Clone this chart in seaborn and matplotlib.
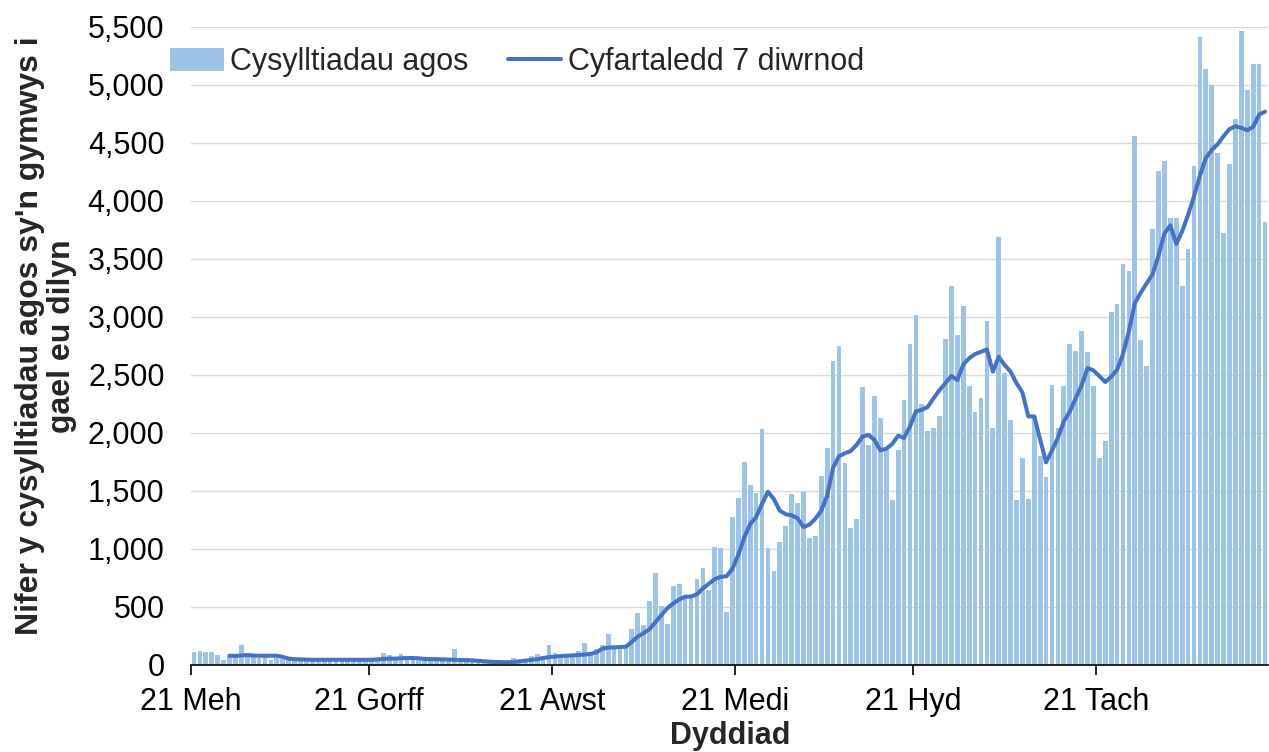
import numpy as np
import pandas as pd
import matplotlib
matplotlib.use("Agg")
import matplotlib.pyplot as plt
import seaborn as sns
from matplotlib.patches import Patch
from matplotlib.lines import Line2D
from matplotlib.ticker import FuncFormatter

# Cysylltiadau agos y dydd, 21 Meh - 19 Rhag 2021 (darllenwyd o'r siart)
cysylltiadau = [
    115, 125, 115, 110, 90, 45, 75, 70, 175, 100,
    70, 60, 70, 45, 60, 50, 60, 50, 55, 45,
    55, 45, 45, 40, 55, 45, 40, 45, 40, 40,
    40, 45, 100, 88, 72, 95, 65, 65, 70, 57,
    70, 57, 57, 52, 138, 60, 57, 52, 46, 37,
    37, 30, 35, 33, 63, 37, 52, 75, 95, 75,
    175, 103, 80, 86, 95, 120, 190, 110, 135, 172,
    265, 140, 155, 160, 310, 445, 345, 552, 790, 510,
    353, 680, 700, 590, 595, 740, 833, 647, 1020, 1005,
    460, 1280, 1437, 1753, 1552, 1480, 2032, 1006, 810, 1063,
    1198, 1471, 1394, 1494, 1092, 1115, 1632, 1874, 2621, 2750,
    1745, 1184, 1256, 2394, 1900, 2320, 2127, 1853, 1420, 1857,
    2286, 2763, 3020, 2249, 2014, 2043, 2149, 2809, 3263, 2843,
    3091, 2409, 2180, 2306, 2966, 2043, 3691, 2520, 2114, 1420,
    1786, 1434, 2150, 1800, 1620, 2410, 2039, 2404, 2768, 2711,
    2883, 2696, 2404, 1786, 1928, 3042, 3111, 3455, 3395, 4557,
    2800, 2575, 3756, 4256, 4346, 3857, 3857, 3268, 3590, 4304,
    5411, 5136, 5000, 4418, 3721, 4321, 4704, 5464, 4954, 5179,
    5179, 3821,
]

# Cyfartaledd 7 diwrnod, o'r 7fed diwrnod ymlaen
cyfartaledd = [
    80, 78, 82, 85, 82, 80, 80, 80, 80,
    70, 55, 50, 48, 47, 45, 45, 45, 45, 45, 45, 45, 45, 45,
    45, 45, 48, 52, 55,
    55, 58, 60, 60, 58, 52, 50, 50, 48, 47, 45, 43, 42, 40, 36, 32, 28,
    26, 25, 24, 25, 32, 38, 44, 50, 60, 68, 72, 78, 80, 83, 86, 90, 95,
    110, 140, 150, 152, 155, 158, 200, 245, 275, 310, 370, 430, 490, 530,
    565, 589, 590, 610, 660, 700, 740, 760, 765, 830,
    950, 1100, 1215, 1275, 1390, 1494, 1430, 1330, 1300, 1290, 1265, 1190,
    1210, 1260, 1330, 1460, 1700, 1800, 1825, 1845, 1900, 1970, 1983, 1940,
    1850, 1865, 1905,
    1977, 1957, 2057, 2186, 2200, 2225, 2300, 2370, 2430, 2491, 2457, 2590,
    2645, 2680, 2700, 2720, 2529, 2657, 2586, 2529, 2430, 2349, 2143, 2143,
    1943, 1747,
    1850, 1960, 2100, 2184, 2300, 2410, 2560, 2540, 2490, 2440, 2485, 2545,
    2680, 2880, 3120, 3210, 3290, 3370, 3530, 3720, 3790, 3630, 3740, 3880,
    4040, 4220, 4370, 4440, 4490, 4560, 4620, 4645, 4630, 4610, 4640, 4745,
    4770,
]

tic_dyddiau = [0, 30, 61, 92, 122, 153]
tic_labeli = ["21 Meh", "21 Gorff", "21 Awst", "21 Medi", "21 Hyd", "21 Tach"]

lliw_bar = "#9DC3E6"
lliw_llinell = "#4472C4"

sns.set_theme(style="white")
plt.rcParams["font.family"] = ["Liberation Sans", "DejaVu Sans"]

n = len(cysylltiadau)
df = pd.DataFrame({"diwrnod": np.arange(n) + 0.5, "nifer": cysylltiadau})
df_cyf = pd.DataFrame({"diwrnod": np.arange(n - len(cyfartaledd), n) + 0.5,
                       "cyf": cyfartaledd})

fig = plt.figure(figsize=(12.69, 7.52), dpi=100)
ax = fig.add_axes([191 / 1269, 1 - 665 / 752, 1077 / 1269, 638 / 752])

sns.barplot(data=df, x="diwrnod", y="nifer", native_scale=True, width=0.8,
            color=lliw_bar, saturation=1, linewidth=0, edgecolor="none",
            ax=ax, zorder=2)
sns.lineplot(data=df_cyf, x="diwrnod", y="cyf", color=lliw_llinell,
             linewidth=2.9, ax=ax, zorder=3)

ax.set_xlim(0, n)
ax.set_ylim(0, 5500)
ax.set_yticks(np.arange(0, 5501, 500))
ax.yaxis.set_major_formatter(FuncFormatter(lambda v, p: f"{int(v):,}"))
ax.set_xticks(tic_dyddiau)
ax.set_xticklabels(tic_labeli)
ax.grid(axis="y", color="#D9D9D9", linewidth=1.0, zorder=0)
ax.set_axisbelow(True)

for s in ["left", "right", "top"]:
    ax.spines[s].set_visible(False)
ax.spines["bottom"].set_color("#000000")
ax.spines["bottom"].set_linewidth(1.2)

ax.tick_params(axis="x", which="major", bottom=True, length=7, width=1.2,
               color="#000000", labelsize=22, pad=9, labelcolor="#000000")
ax.tick_params(axis="y", length=0, labelsize=22, pad=19, labelcolor="#000000")

ax.set_xlabel("")
ax.set_ylabel("")
fig.text(46 / 1269, 1 - 336 / 752,
         "Nifer y cysylltiadau agos sy'n gymwys i\ngael eu dilyn",
         rotation=90, ha="center", va="center", fontsize=23,
         fontweight="bold", multialignment="center", linespacing=1.05)
fig.text(730 / 1269, 1 - 736 / 752, "Dyddiad", ha="center", va="center",
         fontsize=22, fontweight="bold")

handles = [Patch(facecolor=lliw_bar, edgecolor="none"),
           Line2D([0], [0], color=lliw_llinell, linewidth=2.9)]
ax.legend(handles, ["Cysylltiadau agos", "Cyfartaledd 7 diwrnod"],
          loc="center", bbox_to_anchor=(517 / 1269, 1 - 62 / 752),
          bbox_transform=fig.transFigure, ncol=2, frameon=False,
          fontsize=22, handlelength=1.75, handleheight=0.8, handletextpad=0.2,
          columnspacing=1.3, borderpad=0)

fig.savefig("out.png", dpi=100)
